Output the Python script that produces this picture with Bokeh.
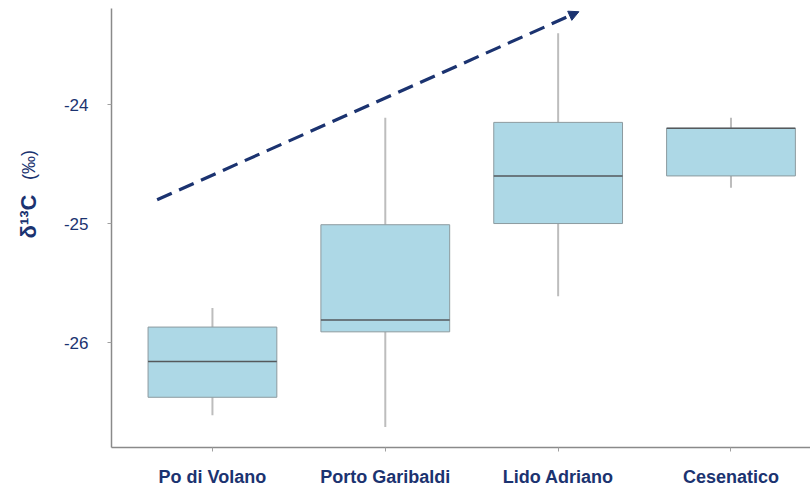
from bokeh.plotting import figure
from bokeh.layouts import row
from bokeh.models import ColumnDataSource, FixedTicker, Range1d, Arrow, NormalHead
from bokeh.core.properties import value
from bokeh.embed import file_html
from bokeh.resources import INLINE

# δ13C summary statistics per site (‰)
sites = ["Po di Volano", "Porto Garibaldi", "Lido Adriano", "Cesenatico"]
whisker_low = [-26.61, -26.71, -25.61, -24.70]
q1 = [-26.46, -25.91, -25.00, -24.60]
median = [-26.16, -25.81, -24.60, -24.20]
q3 = [-25.87, -25.01, -24.15, -24.20]
whisker_high = [-25.71, -24.11, -23.40, -24.11]

y_ticks = [-26, -25, -24]

# trend arrow endpoints (site position, δ13C)
trend_start = (0.68, -24.80)
trend_end = (3.12, -23.22)

NAVY = "#1b3370"
BOX_W = 0.745
TITLE_W = 56
W, H = 810, 494
positions = list(range(1, len(sites) + 1))

src = ColumnDataSource(dict(
    x=positions, lo=whisker_low, q1=q1, med=median, q3=q3, hi=whisker_high,
    left=[x - BOX_W / 2 for x in positions], right=[x + BOX_W / 2 for x in positions],
))

p = figure(width=W - TITLE_W, height=H, output_backend="svg", toolbar_location=None,
           x_range=Range1d(0.416, 4.46), y_range=Range1d(-26.882, -23.193),
           min_border_left=111 - TITLE_W, min_border_right=0, min_border_top=8,
           min_border_bottom=47)
p.outline_line_color = None
p.grid.visible = False
p.background_fill_color = "white"

# whiskers
p.segment(x0="x", y0="lo", x1="x", y1="q1", source=src, line_color="#bdbdbd", line_width=2)
p.segment(x0="x", y0="q3", x1="x", y1="hi", source=src, line_color="#bdbdbd", line_width=2)
# boxes
p.vbar(x="x", width=BOX_W, bottom="q1", top="q3", source=src,
       fill_color="#add8e6", line_color="#8c9a9f", line_width=1)
# medians
p.segment(x0="left", y0="med", x1="right", y1="med", source=src,
          line_color="#55595c", line_width=1.5)

# trend arrow
p.add_layout(Arrow(x_start=trend_start[0], y_start=trend_start[1],
                   x_end=trend_end[0], y_end=trend_end[1],
                   line_color=NAVY, line_width=3.2, line_dash="16 8",
                   end=NormalHead(size=10, fill_color=NAVY, line_color=NAVY)))

# axes
p.xaxis.ticker = FixedTicker(ticks=positions)
p.xaxis.major_label_overrides = {i: s for i, s in zip(positions, sites)}
p.yaxis.ticker = FixedTicker(ticks=y_ticks)
p.yaxis.major_label_overrides = {t: str(t) for t in y_ticks}
for ax in (p.xaxis, p.yaxis):
    ax.axis_line_color = "#8a8a8a"
    ax.axis_line_width = 1.5
    ax.major_tick_line_color = "#a0a0a0"
    ax.major_tick_in = 0
    ax.major_tick_out = 4
    ax.minor_tick_line_color = None
    ax.major_label_text_color = NAVY
    ax.major_label_text_font = "Liberation Sans"
p.xaxis.major_label_text_font_size = "18px"
p.xaxis.major_label_text_font_style = "bold"
p.xaxis.major_label_standoff = 15
p.yaxis.major_label_text_font_size = "17px"
p.yaxis.major_label_standoff = 19

# narrow side panel carrying the vertical y-axis title (bold symbol, lighter unit)
t = figure(width=TITLE_W, height=H, output_backend="svg", toolbar_location=None,
           x_range=Range1d(0, TITLE_W), y_range=Range1d(0, H),
           min_border=0, x_axis_type=None, y_axis_type=None)
t.outline_line_color = None
t.grid.visible = False
t.text(x=[28], y=[H - 234], text=["δ¹³C"], angle=1.5708,
       text_font=value("Liberation Sans"), text_font_size="22px",
       text_font_style="bold", text_color=NAVY,
       text_align="center", text_baseline="middle")
t.text(x=[28], y=[H - 176], text=["(‰)"], angle=1.5708,
       text_font=value("Liberation Sans"), text_font_size="18px",
       text_color=NAVY, text_align="center", text_baseline="middle")

layout = row(t, p, spacing=0)

out = open("out.html", "w")
out.write(file_html(layout, INLINE))
out.close()
